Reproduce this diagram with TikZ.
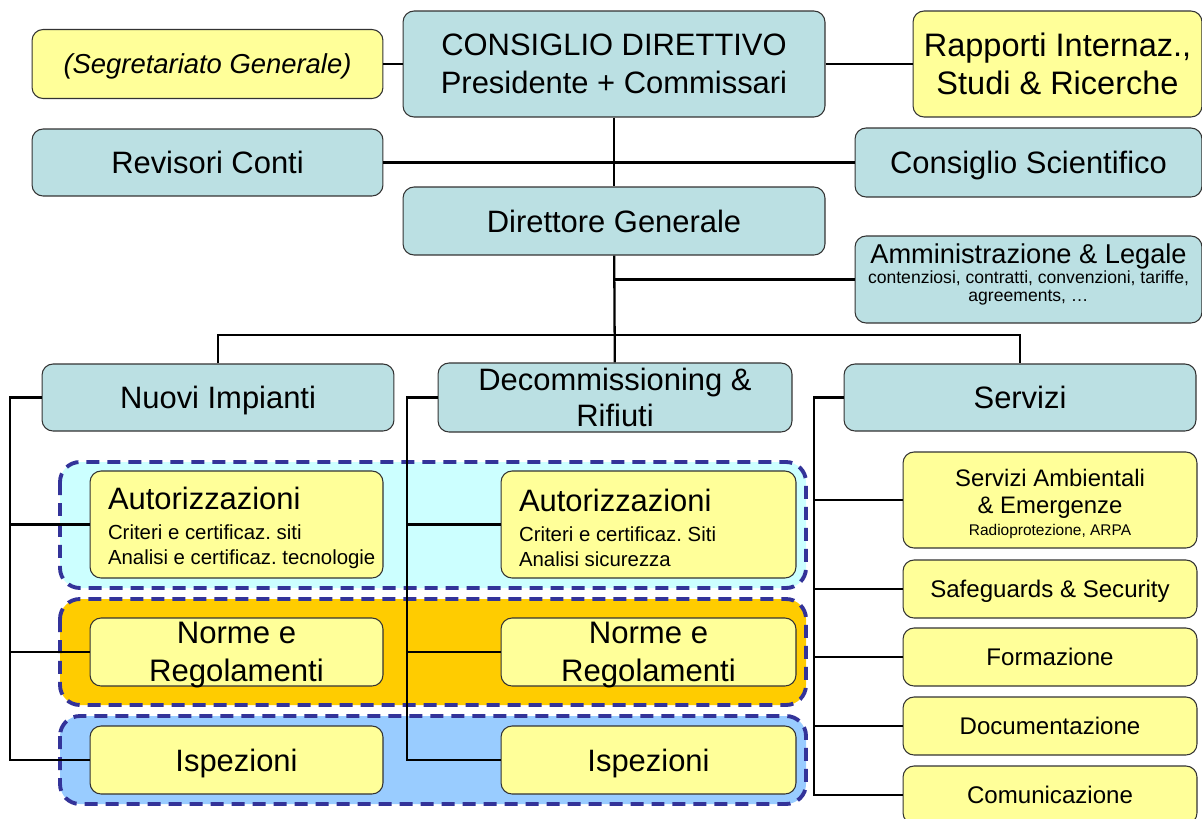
\documentclass[tikz,border=0pt]{standalone}
\usepackage{fontspec}
\setmainfont{Liberation Sans}
\usetikzlibrary{positioning}
\definecolor{tealfill}{RGB}{187,224,227}
\definecolor{yellowfill}{RGB}{255,255,153}
\definecolor{cyangroup}{RGB}{204,255,255}
\definecolor{orangegroup}{RGB}{255,204,0}
\definecolor{bluegroup}{RGB}{153,204,255}
\definecolor{dashblue}{RGB}{51,51,153}
\newcommand{\bigtxt}{\fontsize{17.6}{21}\selectfont}
\newcommand{\midtxt}{\fontsize{13.7}{15.4}\selectfont}
\newcommand{\smalltxt}{\fontsize{10}{10.3}\selectfont}
\newcommand{\subtxt}{\fontsize{11.6}{14.7}\selectfont}
\frenchspacing
\tikzset{
    tealbox/.style={draw=black!80, fill=tealfill, line width=0.6pt, rounded corners=0.22cm, align=center, inner sep=0pt, font=\bigtxt},
    yellowbox/.style={draw=black!80, fill=yellowfill, line width=0.6pt, rounded corners=0.22cm, align=center, inner sep=0pt, font=\bigtxt},
    authbox/.style={yellowbox, minimum height=2.14cm, align=flush left, inner xsep=0.36cm, font=\subtxt},
    normbox/.style={yellowbox, minimum height=1.36cm, text depth=-0.05cm, font=\fontsize{17.7}{21.5}\selectfont},
    oneline/.style={text depth=0pt},
    group/.style={draw=dashblue, line width=2.2pt, dash pattern=on 0.26cm off 0.16cm, rounded corners=0.4cm},
    link/.style={draw=black, line width=1.3pt}
}

\begin{document}
\begin{tikzpicture}[x=0.02cm, y=-0.02cm]
    \useasboundingbox (0,0) rectangle (1202,818);
    \clip (0,0) rectangle (1202,818);

    % Groups
    \draw[group, fill=cyangroup] (60,462) rectangle (806,588);
    \draw[group, fill=orangegroup] (60,599) rectangle (806,705);
    \draw[group, fill=bluegroup] (60,716) rectangle (806,804);

    % Top level
    \node (cd) at (614,64) [tealbox, minimum width=8.44cm, minimum height=2.12cm, font=\fontsize{17.6}{21.4}\selectfont]
        {CONSIGLIO DIRETTIVO\\Presidente + Commissari};
    \node (segr) at (207.5,64) [yellowbox, oneline, minimum width=7.02cm, minimum height=1.38cm, font=\fontsize{15.6}{18}\selectfont\itshape]
        {(Segretariato Generale)};
    \node (rapp) at (1057.5,64) [yellowbox, minimum width=5.78cm, minimum height=2.12cm, font=\fontsize{18.5}{21.4}\selectfont]
        {Rapporti Internaz.,\\ Studi \& Ricerche};
    \node (rev) at (207.5,162.5) [tealbox, minimum width=7.02cm, minimum height=1.34cm]
        {Revisori Conti};
    \node (cs) at (1028.5,162.5) [tealbox, oneline, minimum width=6.94cm, minimum height=1.38cm]
        {Consiglio Scientifico};
    \node (dg) at (614,221) [tealbox, minimum width=8.44cm, minimum height=1.36cm]
        {Direttore Generale};
    \node (amm) at (1028.5,279.5) [tealbox, minimum width=6.94cm, minimum height=1.74cm, font=\smalltxt]
        {{\fontsize{15.5}{17}\selectfont Amministrazione \& Legale}\\
         contenziosi, contratti, convenzioni, tariffe,\\ agreements, \dots\rule[-0.28cm]{0pt}{0.28cm}};

    % Sections
    \node (nuovi) at (218,397.5) [tealbox, oneline, minimum width=7.04cm, minimum height=1.34cm]
        {Nuovi Impianti};
    \node (decomm) at (615,397.5) [tealbox, minimum width=7.08cm, minimum height=1.38cm, font=\fontsize{17.6}{20.5}\selectfont]
        {Decommissioning \&\\Rifiuti};
    \node (serv) at (1020,397.5) [tealbox, minimum width=7.04cm, minimum height=1.34cm]
        {Servizi};

    % Left column
    \node (autL) at (236.5,524.5) [authbox, text width=5.14cm]
        {{\fontsize{17.6}{20}\selectfont\rule{0pt}{0.6cm}Autorizzazioni}\\[2pt]
         Criteri e certificaz. siti\\\mbox{Analisi e certificaz. tecnologie}};
    \node (normL) at (236.5,652) [normbox, minimum width=5.86cm]
        {Norme e\\Regolamenti};
    \node (ispL) at (236.5,760) [yellowbox, oneline, minimum width=5.86cm, minimum height=1.36cm]
        {Ispezioni};

    % Middle column
    \node (autR) at (648.5,524.5) [authbox, text width=5.18cm]
        {{\fontsize{17.6}{20}\selectfont\rule{0pt}{0.6cm}Autorizzazioni}\\[2pt]
         Criteri e certificaz. Siti\\Analisi sicurezza};
    \node (normR) at (648.5,652) [normbox, minimum width=5.9cm]
        {Norme e\\Regolamenti};
    \node (ispR) at (648.5,760) [yellowbox, oneline, minimum width=5.9cm, minimum height=1.36cm]
        {Ispezioni};

    % Right column
    \node (amb) at (1050,500) [yellowbox, minimum width=5.88cm, minimum height=1.92cm, font=\fontsize{13.6}{15.4}\selectfont]
        {\rule{0pt}{0.49cm}Servizi Ambientali\\\& Emergenze\\[-3pt]
         \fontsize{8.8}{10}\selectfont Radioprotezione, ARPA};
    \node (safe) at (1050,589) [yellowbox, oneline, minimum width=5.88cm, minimum height=1.16cm, font=\midtxt]
        {Safeguards \& Security};
    \node (form) at (1050,657) [yellowbox, minimum width=5.88cm, minimum height=1.16cm, font=\midtxt]
        {Formazione};
    \node (doc) at (1050,726) [yellowbox, minimum width=5.88cm, minimum height=1.16cm, font=\midtxt]
        {Documentazione};
    \node (com) at (1050,795) [yellowbox, minimum width=5.88cm, minimum height=1.16cm, font=\midtxt]
        {Comunicazione};

    % Bus coordinates
    \coordinate (split) at (614,335);
    \coordinate (nbar) at (10,0);
    \coordinate (dbar) at (407,0);
    \coordinate (sbar) at (814,0);

    % Links top
    \draw[link] (segr) -- (cd);
    \draw[link] (cd) -- (rapp);
    \draw[link] (cd) -- (dg);
    \draw[link] (rev) -- (cs);
    \draw[link] (dg) -- (decomm);
    \draw[link] (amm.west) -- (amm.west -| dg.south);
    \draw[link] (nuovi.north) |- (split) -| (serv.north);

    % Links Nuovi Impianti
    \draw[link] (nuovi.west) -| (nbar |- ispL.west) -- (ispL.west);
    \draw[link] (autL.west) -- (autL.west -| nbar);
    \draw[link] (normL.west) -- (normL.west -| nbar);

    % Links Decommissioning
    \draw[link] (decomm.west) -| (dbar |- ispR.west) -- (ispR.west);
    \draw[link] (autR.west) -- (autR.west -| dbar);
    \draw[link] (normR.west) -- (normR.west -| dbar);

    % Links Servizi
    \draw[link] (serv.west) -| (sbar |- com.west) -- (com.west);
    \draw[link] (amb.west) -- (amb.west -| sbar);
    \draw[link] (safe.west) -- (safe.west -| sbar);
    \draw[link] (form.west) -- (form.west -| sbar);
    \draw[link] (doc.west) -- (doc.west -| sbar);
\end{tikzpicture}
\end{document}
